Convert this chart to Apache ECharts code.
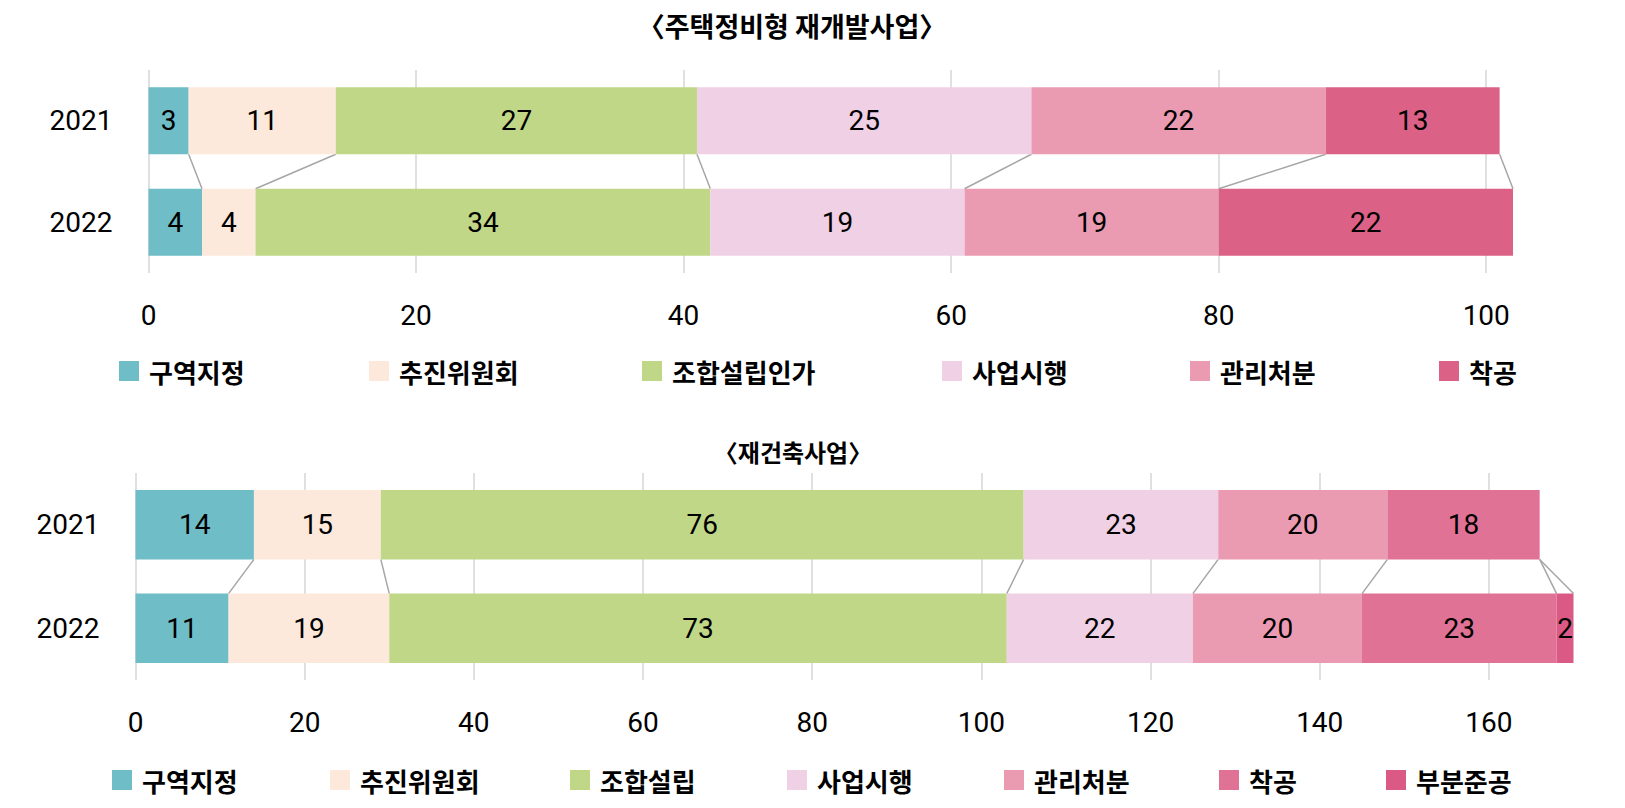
<!DOCTYPE html>
<html>
<head>
<meta charset="utf-8">
<script src="https://cdn.jsdelivr.net/npm/echarts@6/dist/echarts.min.js"></script>
<style>
  html, body { margin: 0; padding: 0; background: #fff; }
  #chart { width: 1625px; height: 808px; }
</style>
</head>
<body>
<div id="chart"></div>
<script>
// ---- data ----
const categories = ['2021', '2022'];

const topTitle = '〈주택정비형 재개발사업〉';
const topSeriesNames = ['구역지정', '추진위원회', '조합설립인가', '사업시행', '관리처분', '착공'];
const topValues2021 = [3, 11, 27, 25, 22, 13];
const topValues2022 = [4, 4, 34, 19, 19, 22];

const bottomTitle = '〈재건축사업〉';
const bottomSeriesNames = ['구역지정', '추진위원회', '조합설립', '사업시행', '관리처분', '착공', '부분준공'];
const bottomValues2021 = [14, 15, 76, 23, 20, 18, null];
const bottomValues2022 = [11, 19, 73, 22, 20, 23, 2];

const topAxisMax = 102;
const bottomAxisMax = 170;
const tickInterval = 20;

// ---- styles / layout ----
const topColors = ['#6fbdc6', '#fce9dc', '#c0d788', '#f0d0e4', '#ea9bb2', '#dc6186'];
const bottomColors = ['#6fbdc6', '#fce9dc', '#c0d788', '#f0d0e4', '#ea9bb2', '#e07295', '#da5a85'];
const topLegendLeft = [119, 369, 642, 942, 1190, 1439];
const bottomLegendLeft = [112, 330, 570, 787, 1004, 1219, 1386];
const numFont = 'Roboto';
const krFont = '"Noto Sans CJK KR"';
const gridLineColor = '#d6d6d6';
const connectorColor = '#a6a6a6';
const topBarRatio = 0.66;
const bottomBarRatio = 0.67;

function cumulative(arr) {
  let s = 0;
  return arr.map(v => (s += (v || 0)));
}

function connectorData(a, b) {
  const ca = cumulative(a), cb = cumulative(b);
  return ca.map((c, i) => [c, cb[i], 0]);
}

function makeConnector(gridIdx, data, ratio) {
  return {
    type: 'custom',
    xAxisIndex: gridIdx,
    yAxisIndex: gridIdx,
    silent: true,
    encode: { x: [0, 1], y: 2 },
    data: data,
    z: 1,
    renderItem: function (params, api) {
      const a = api.coord([api.value(0), 0]);
      const b = api.coord([api.value(1), 1]);
      const half = api.size([0, 1])[1] * ratio / 2;
      return {
        type: 'line',
        shape: { x1: a[0], y1: a[1] + half, x2: b[0], y2: b[1] - half },
        style: { stroke: connectorColor, lineWidth: 1.5 }
      };
    }
  };
}

function makeBars(gridIdx, names, v1, v2, colors, ratio, stackName) {
  return names.map((n, i) => ({
    type: 'bar',
    name: n,
    xAxisIndex: gridIdx,
    yAxisIndex: gridIdx,
    stack: stackName,
    barWidth: (ratio * 100) + '%',
    data: [v1[i], v2[i]],
    itemStyle: { color: colors[i], borderWidth: 0 },
    label: {
      show: true,
      position: 'inside',
      color: '#000',
      fontSize: 28,
      fontFamily: numFont,
      formatter: p => (p.value == null ? '' : String(p.value))
    },
    emphasis: { disabled: true },
    z: 2
  }));
}

function xAxisDef(gridIdx, max) {
  return {
    gridIndex: gridIdx,
    type: 'value',
    min: 0,
    max: max,
    interval: tickInterval,
    axisLine: { show: false },
    axisTick: { show: false },
    splitLine: { show: true, showMinLine: true, showMaxLine: false, lineStyle: { color: gridLineColor, width: 1.5 } },
    axisLabel: { showMaxLabel: false, margin: 28, fontSize: 28, fontFamily: numFont, color: '#000' }
  };
}

function yAxisDef(gridIdx) {
  return {
    gridIndex: gridIdx,
    type: 'category',
    data: categories,
    inverse: true,
    axisLine: { show: false },
    axisTick: { show: false },
    splitLine: { show: false },
    axisLabel: { margin: 36, fontSize: 28, fontFamily: numFont, color: '#000' }
  };
}

function makeLegends(names, colors, lefts, top) {
  return names.map((n, i) => ({
    left: lefts[i], top: top, padding: 0, orient: 'horizontal',
    itemWidth: 20, itemHeight: 20, icon: 'rect',
    selectedMode: false,
    data: [{ name: n, itemStyle: { color: colors[i], borderWidth: 0 } }],
    textStyle: { fontSize: 26, fontFamily: krFont, color: '#000', fontWeight: 'bold', padding: [0, 0, 0, 5] }
  }));
}

const chart = echarts.init(document.getElementById('chart'), null, { renderer: 'svg' });

const option = {
  backgroundColor: '#ffffff',
  animation: false,
  graphic: [
    {
      type: 'text', x: 792, y: 25,
      style: { text: topTitle, fill: '#000', fontSize: 27, fontWeight: 'bold', fontFamily: krFont, align: 'center', verticalAlign: 'middle' }
    },
    {
      type: 'text', x: 793, y: 451,
      style: { text: bottomTitle, fill: '#000', fontSize: 24, fontWeight: 'bold', fontFamily: krFont, align: 'center', verticalAlign: 'middle' }
    }
  ],
  grid: [
    { left: 148.5, top: 70, width: 1364.5, height: 203, containLabel: false },
    { left: 135.5, top: 473, width: 1438, height: 207, containLabel: false }
  ],
  xAxis: [xAxisDef(0, topAxisMax), xAxisDef(1, bottomAxisMax)],
  yAxis: [yAxisDef(0), yAxisDef(1)],
  legend: [
    ...makeLegends(topSeriesNames, topColors, topLegendLeft, 358),
    ...makeLegends(bottomSeriesNames, bottomColors, bottomLegendLeft, 767)
  ],
  series: [
    ...makeBars(0, topSeriesNames, topValues2021, topValues2022, topColors, topBarRatio, 'top'),
    makeConnector(0, connectorData(topValues2021, topValues2022), topBarRatio),
    ...makeBars(1, bottomSeriesNames, bottomValues2021, bottomValues2022, bottomColors, bottomBarRatio, 'bottom'),
    makeConnector(1, connectorData(bottomValues2021, bottomValues2022), bottomBarRatio)
  ]
};

chart.setOption(option);
</script>
</body>
</html>
